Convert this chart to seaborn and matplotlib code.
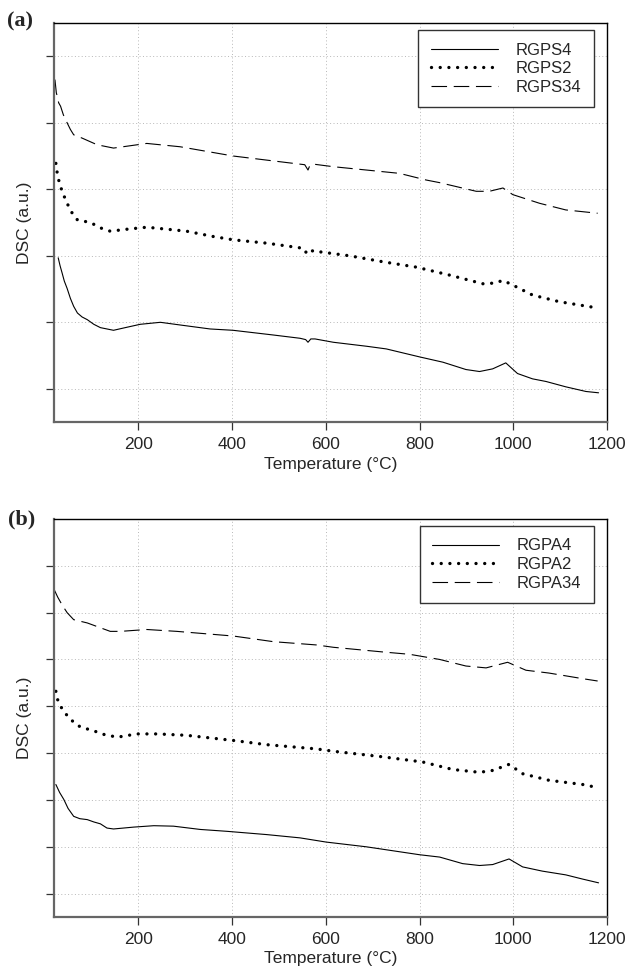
import matplotlib
matplotlib.use("Agg")
import matplotlib.pyplot as plt
import seaborn as sns

# ---- panel (a) ----
a_labels = ["RGPS4", "RGPS2", "RGPS34"]
a_solid_x = [29, 33, 37, 42, 48, 55, 62, 70, 80, 91, 105, 119, 147, 172, 204, 247, 289, 353, 402, 487,
             545, 557, 562, 568, 577, 616, 687, 729, 800, 850, 899, 928, 956, 984, 1009, 1041, 1070,
             1112, 1155, 1182]
a_solid_y = [2.97, 2.85, 2.75, 2.62, 2.51, 2.36, 2.24, 2.14, 2.08, 2.04, 1.97, 1.92, 1.88, 1.92, 1.97,
             2.00, 1.96, 1.90, 1.88, 1.81, 1.76, 1.74, 1.70, 1.75, 1.75, 1.70, 1.64, 1.60, 1.48, 1.40,
             1.29, 1.26, 1.30, 1.39, 1.23, 1.15, 1.11, 1.03, 0.96, 0.94]
a_dot_x = [24, 27, 30, 34, 39, 45, 52, 59, 70, 98, 119, 140, 176, 218, 261, 303, 360, 403, 474, 545,
           555, 559, 566, 580, 587, 651, 722, 793, 864, 935, 960, 978, 999, 1041, 1098, 1176]
a_dot_y = [4.39, 4.24, 4.14, 4.04, 3.94, 3.84, 3.73, 3.64, 3.54, 3.50, 3.42, 3.37, 3.40, 3.43, 3.40,
           3.37, 3.29, 3.24, 3.19, 3.12, 3.10, 3.03, 3.07, 3.08, 3.06, 3.00, 2.91, 2.83, 2.71, 2.58,
           2.59, 2.63, 2.56, 2.41, 2.31, 2.22]
a_dash_x = [22, 25, 27, 30, 34, 40, 48, 55, 62, 80, 112, 147, 218, 289, 403, 531, 555, 562, 566, 572,
            616, 757, 814, 843, 921, 949, 978, 999, 1056, 1112, 1180]
a_dash_y = [5.65, 5.45, 5.40, 5.30, 5.25, 5.12, 5.00, 4.90, 4.82, 4.77, 4.67, 4.62, 4.69, 4.64, 4.50,
            4.39, 4.37, 4.29, 4.36, 4.38, 4.34, 4.24, 4.14, 4.10, 3.97, 3.97, 4.02, 3.92, 3.79, 3.69,
            3.64]

# ---- panel (b) ----
b_labels = ["RGPA4", "RGPA2", "RGPA34"]
b_solid_x = [24, 32, 41, 50, 62, 75, 91, 105, 119, 133, 147, 190, 233, 275, 332, 389, 474, 545, 601,
             686, 800, 843, 892, 928, 956, 991, 1020, 1062, 1112, 1148, 1182]
b_solid_y = [3.33, 3.16, 3.01, 2.82, 2.65, 2.60, 2.58, 2.53, 2.49, 2.40, 2.38, 2.42, 2.45, 2.44, 2.37,
             2.33, 2.26, 2.19, 2.10, 2.00, 1.83, 1.78, 1.64, 1.60, 1.62, 1.74, 1.57, 1.48, 1.40, 1.31,
             1.23]
b_dot_x = [24, 27, 34, 44, 55, 66, 80, 98, 126, 155, 197, 240, 303, 403, 474, 580, 616, 722, 807, 871,
           928, 956, 991, 1020, 1076, 1148, 1182]
b_dot_y = [5.32, 5.16, 5.00, 4.85, 4.73, 4.62, 4.54, 4.50, 4.40, 4.34, 4.41, 4.41, 4.38, 4.27, 4.18,
           4.09, 4.04, 3.92, 3.81, 3.65, 3.59, 3.63, 3.76, 3.56, 3.42, 3.33, 3.26]
b_dash_x = [20, 28, 37, 48, 62, 91, 140, 162, 218, 282, 403, 488, 580, 616, 722, 779, 843, 899, 942,
            988, 1027, 1076, 1148, 1180]
b_dash_y = [7.50, 7.33, 7.17, 7.00, 6.85, 6.78, 6.60, 6.60, 6.64, 6.60, 6.50, 6.38, 6.31, 6.26, 6.16,
            6.11, 6.00, 5.86, 5.82, 5.94, 5.77, 5.71, 5.59, 5.54]

x_ticks = [200, 400, 600, 800, 1000, 1200]

sns.set_style("ticks")
plt.rcParams["font.family"] = ["Liberation Sans", "DejaVu Sans"]

fig = plt.figure(figsize=(6.3, 9.77), dpi=100)
ax_a = fig.add_axes([0.0857, 0.568, 0.8778, 0.4084])
ax_b = fig.add_axes([0.0857, 0.0614, 0.8778, 0.4074])


def draw_panel(ax, series, labels, n_yticks, ylim, legend_top):
    styles = [
        dict(linestyle="-", lw=0.8),
        dict(linestyle=(0, (0.01, 2.6)), lw=2.4, dash_capstyle="round"),
        dict(linestyle=(0, (14, 6)), lw=0.8),
    ]
    for (xs, ys), lab, st in zip(series, labels, styles):
        sns.lineplot(x=xs, y=ys, ax=ax, color="black", label=lab, estimator=None, **st)

    ax.set_xlim(20, 1200)
    ax.set_ylim(*ylim)
    ax.set_xticks(x_ticks)
    ax.set_yticks(range(1, n_yticks + 1))
    ax.set_yticklabels([])
    ax.grid(True, linestyle=(0, (1, 2.5)), color="#b8b8b8", linewidth=0.7)
    ax.tick_params(axis="both", direction="out", length=6, width=0.9, color="#333333",
                   labelsize=12.5, pad=5)
    for side in ["left", "bottom"]:
        ax.spines[side].set_color("#666666")
        ax.spines[side].set_linewidth(1.6)
    for side in ["top", "right"]:
        ax.spines[side].set_color("black")
        ax.spines[side].set_linewidth(1.0)
    ax.set_xlabel("Temperature (\u00b0C)", fontsize=12.5, labelpad=3)
    ax.set_ylabel("DSC (a.u.)", fontsize=12.5)
    ax.yaxis.set_label_coords(-0.040, 0.5)

    leg = ax.legend(loc="upper right", bbox_to_anchor=(0.9765, legend_top), borderaxespad=0,
                    fontsize=12, handlelength=4.0, handletextpad=1.1, labelspacing=0.22,
                    borderpad=0.75, fancybox=False, framealpha=1, frameon=True)
    leg.get_frame().set_edgecolor("#333333")
    leg.get_frame().set_linewidth(1.0)


draw_panel(ax_a, [(a_solid_x, a_solid_y), (a_dot_x, a_dot_y), (a_dash_x, a_dash_y)],
           a_labels, 6, (0.5, 6.5), 0.9825)
draw_panel(ax_b, [(b_solid_x, b_solid_y), (b_dot_x, b_dot_y), (b_dash_x, b_dash_y)],
           b_labels, 8, (0.5, 9.0), 0.9825)

fig.text(0.011, 0.9775, "(a)", fontsize=16, fontweight="bold", family="Liberation Serif",
         ha="left", va="center")
fig.text(0.013, 0.4678, "(b)", fontsize=16, fontweight="bold", family="Liberation Serif",
         ha="left", va="center")

fig.savefig("out.png", dpi=100)
